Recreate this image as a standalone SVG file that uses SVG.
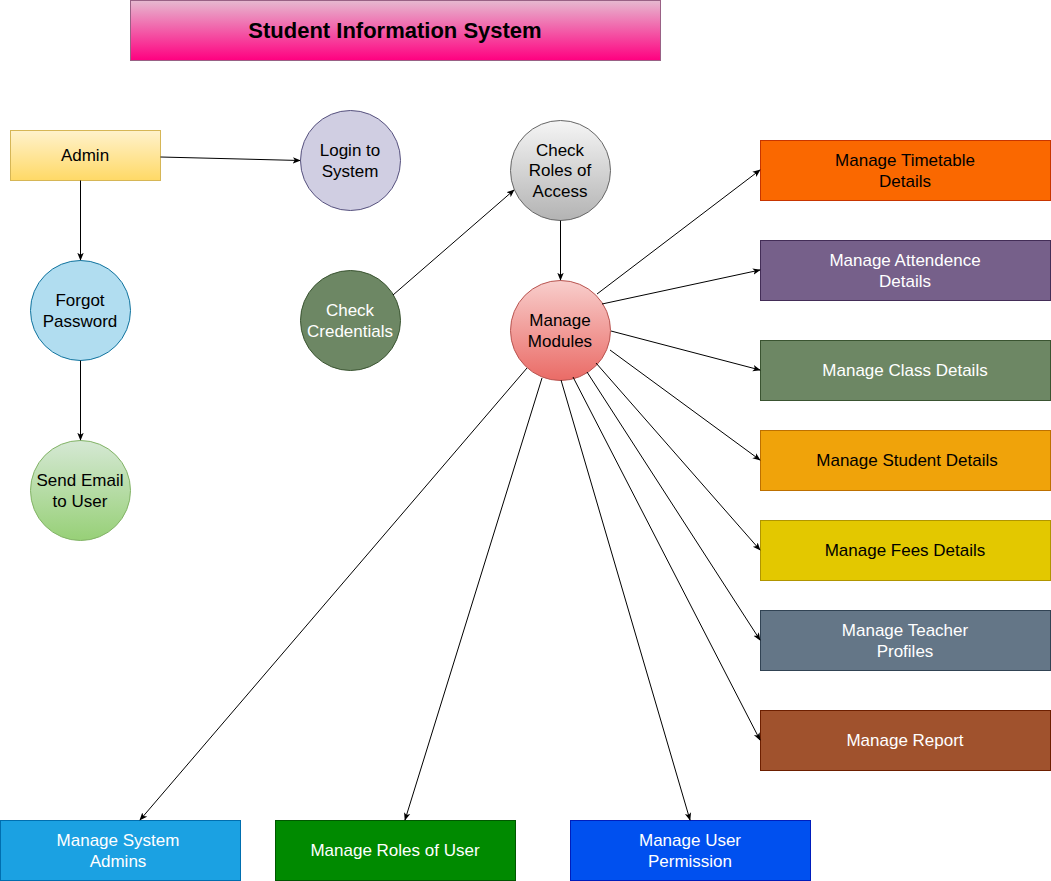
<svg xmlns="http://www.w3.org/2000/svg" width="1051" height="881" viewBox="0 0 1051 881">
<defs>
<linearGradient id="gTitle" x1="0" y1="0" x2="0" y2="1"><stop offset="0" stop-color="#e6b9d0"/><stop offset="1" stop-color="#ff0080"/></linearGradient>
<linearGradient id="gAdmin" x1="0" y1="0" x2="0" y2="1"><stop offset="0" stop-color="#fff2cc"/><stop offset="1" stop-color="#ffd966"/></linearGradient>
<linearGradient id="gGreen" x1="0" y1="0" x2="0" y2="1"><stop offset="0" stop-color="#d5e8d4"/><stop offset="1" stop-color="#97d077"/></linearGradient>
<linearGradient id="gGray" x1="0" y1="0" x2="0" y2="1"><stop offset="0" stop-color="#f5f5f5"/><stop offset="1" stop-color="#b3b3b3"/></linearGradient>
<linearGradient id="gRed" x1="0" y1="0" x2="0" y2="1"><stop offset="0" stop-color="#f8cecc"/><stop offset="1" stop-color="#ea6b66"/></linearGradient>
<marker id="arr" viewBox="0 0 10 10" refX="9" refY="5" markerWidth="8" markerHeight="8" markerUnits="userSpaceOnUse" orient="auto">
<path d="M0,1 L10,5 L0,9 L2.5,5 Z" fill="#000"/>
</marker>
</defs>
<style>
text{font-family:"Liberation Sans",Arial,sans-serif;font-size:17px;text-anchor:middle;dominant-baseline:central;fill:#000}
.w{fill:#fff}
.c line{stroke:#000;stroke-width:1;marker-end:url(#arr)}
</style>
<g id="title">
<rect x="130.5" y="0.5" width="530" height="60" fill="url(#gTitle)" stroke="#996185"/>
<text x="395" y="30" style="font-weight:bold;font-size:22px">Student Information System</text>
</g>
<g id="admin">
<rect x="10.5" y="130.5" width="150" height="50" fill="url(#gAdmin)" stroke="#d6b656"/>
<text x="85" y="155">Admin</text>
</g>
<g id="login">
<circle cx="350.5" cy="160.5" r="50" fill="#d0cee2" stroke="#56517e"/>
<text x="350" y="150">Login to</text><text x="350" y="171">System</text>
</g>
<g id="forgot">
<circle cx="80.5" cy="310.5" r="50" fill="#b1ddf0" stroke="#10739e"/>
<text x="80" y="300">Forgot</text><text x="80" y="321">Password</text>
</g>
<g id="sendemail">
<circle cx="80.5" cy="490.5" r="50" fill="url(#gGreen)" stroke="#82b366"/>
<text x="80" y="480">Send Email</text><text x="80" y="501">to User</text>
</g>
<g id="checkcred">
<circle cx="350.5" cy="320.5" r="50" fill="#6d8764" stroke="#3a5431"/>
<text class="w" x="350" y="310">Check</text><text class="w" x="350" y="331">Credentials</text>
</g>
<g id="checkroles">
<circle cx="560.5" cy="170.5" r="50" fill="url(#gGray)" stroke="#666666"/>
<text x="560" y="150">Check</text><text x="560" y="170">Roles of</text><text x="560" y="191">Access</text>
</g>
<g id="modules">
<circle cx="560.5" cy="330.5" r="50" fill="url(#gRed)" stroke="#b85450"/>
<text x="560" y="320">Manage</text><text x="560" y="341">Modules</text>
</g>
<g id="timetable">
<rect x="760.5" y="140.5" width="290" height="60" fill="#fa6800" stroke="#c73500"/>
<text x="905" y="160">Manage Timetable</text><text x="905" y="181">Details</text>
</g>
<g id="attendance">
<rect x="760.5" y="240.5" width="290" height="60" fill="#76608a" stroke="#432d57"/>
<text class="w" x="905" y="260">Manage Attendence</text><text class="w" x="905" y="281">Details</text>
</g>
<g id="class">
<rect x="760.5" y="340.5" width="290" height="60" fill="#6d8764" stroke="#3a5431"/>
<text class="w" x="905" y="370">Manage Class Details</text>
</g>
<g id="student">
<rect x="760.5" y="430.5" width="290" height="60" fill="#f0a30a" stroke="#bd7000"/>
<text x="907" y="460">Manage Student Details</text>
</g>
<g id="fees">
<rect x="760.5" y="520.5" width="290" height="60" fill="#e3c800" stroke="#b09500"/>
<text x="905" y="550">Manage Fees Details</text>
</g>
<g id="teacher">
<rect x="760.5" y="610.5" width="290" height="60" fill="#647687" stroke="#314354"/>
<text class="w" x="905" y="630">Manage Teacher</text><text class="w" x="905" y="651">Profiles</text>
</g>
<g id="report">
<rect x="760.5" y="710.5" width="290" height="60" fill="#a0522d" stroke="#6d1f00"/>
<text class="w" x="905" y="740">Manage Report</text>
</g>
<g id="sysadmins">
<rect x="0.5" y="820.5" width="240" height="60" fill="#1ba1e2" stroke="#006eaf"/>
<text class="w" x="118" y="840">Manage System</text><text class="w" x="118" y="861">Admins</text>
</g>
<g id="rolesuser">
<rect x="275.5" y="820.5" width="240" height="60" fill="#008a00" stroke="#005700"/>
<text class="w" x="395" y="850">Manage Roles of User</text>
</g>
<g id="userperm">
<rect x="570.5" y="820.5" width="240" height="60" fill="#0050ef" stroke="#001dbc"/>
<text class="w" x="690" y="840">Manage User</text><text class="w" x="690" y="861">Permission</text>
</g>
<g id="connectors" class="c">
<line x1="160.5" y1="157" x2="300" y2="160.5"/>
<line x1="80.5" y1="180.5" x2="80.5" y2="260"/>
<line x1="80.5" y1="360.5" x2="80.5" y2="440"/>
<line x1="393" y1="295" x2="514" y2="190"/>
<line x1="560.5" y1="220.5" x2="560.5" y2="280"/>
<line x1="597" y1="294" x2="760" y2="170"/>
<line x1="602" y1="304" x2="760" y2="270"/>
<line x1="611" y1="331" x2="760" y2="370"/>
<line x1="610" y1="350" x2="760" y2="460"/>
<line x1="596" y1="363" x2="760" y2="550"/>
<line x1="587" y1="372" x2="760" y2="640"/>
<line x1="573" y1="377" x2="760" y2="740"/>
<line x1="561" y1="380" x2="690" y2="820"/>
<line x1="542" y1="378" x2="405" y2="820"/>
<line x1="527" y1="368" x2="140" y2="820"/>
</g>
</svg>
